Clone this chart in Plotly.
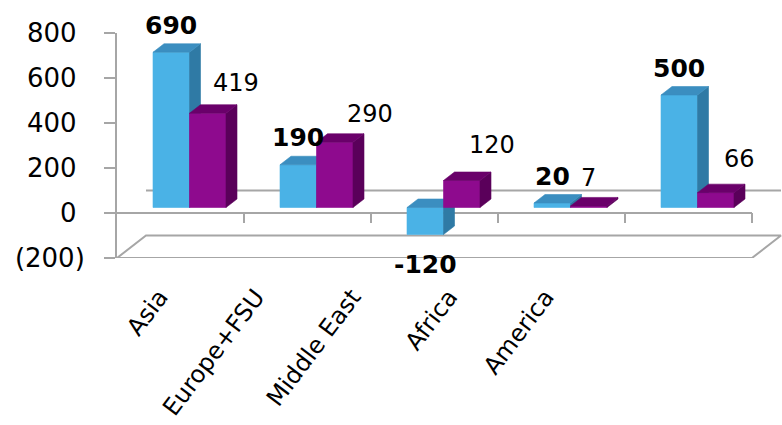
import plotly.graph_objects as go

# ---- data ---------------------------------------------------------------
categories = ["Asia", "Europe+FSU", "Middle East", "Africa", "America"]
series_a = [690, 190, -120, 20, 500]      # first series (blue, bold labels)
series_b = [419, 290, 120, 7, 66]         # second series (purple)
y_tickvals = [-200, 0, 200, 400, 600, 800]
y_ticktext = ["(200)", "0\u00a0", "200\u00a0", "400\u00a0", "600\u00a0", "800\u00a0"]

# ---- layout geometry ----------------------------------------------------
W, H = 782, 425
M_L, M_R, M_T, M_B = 117, 0, 33, 167
PLOT_W = W - M_L - M_R
PLOT_H = H - M_T - M_B
Y_RANGE = [-200, 800]
PX_PER_CAT = 127.0                         # category slot width on the front plane
PX_PER_VAL = PLOT_H / (Y_RANGE[1] - Y_RANGE[0])
X2_RANGE = [0, PLOT_W / PX_PER_CAT]

def du(px):
    return px / PX_PER_CAT

def dv(px):
    return px / PX_PER_VAL

BAR_W = du(36.5)
FRONT_DU, FRONT_DV = du(9), dv(5.5)        # bars sit a little behind the front plane
BAR_DU, BAR_DV = du(11), dv(8.5)           # depth of a bar
FLOOR_DU, FLOOR_DV = du(29), dv(22.5)      # depth of the floor / back wall
N = len(categories)

LABEL_SPACING = 96.5                       # px between category label anchors
LABEL_R0 = -0.44
X_RANGE = [LABEL_R0, LABEL_R0 + PLOT_W / LABEL_SPACING]

FONT = "DejaVu Sans"
GRID = "#A6A6A6"
BLUE = {"front": "#4AB2E6", "side": "#2F7AA5", "top": "#3B8EC0"}
PURPLE = {"front": "#8E0A8E", "side": "#5A005A", "top": "#6A006A"}
label_b_dx = [28, 35, 30, 0, 24]
label_b_dy = [30, 28, 36, 28, 34]

fig = go.Figure()

# invisible trace carrying the category label axis
fig.add_trace(go.Scatter(x=list(range(N)), y=[0] * N, mode="markers",
                         marker=dict(opacity=0), hoverinfo="skip",
                         showlegend=False, xaxis="x", yaxis="y"))

def line_trace(xs, ys):
    fig.add_trace(go.Scatter(x=xs, y=ys, mode="lines", xaxis="x2", yaxis="y",
                             line=dict(color=GRID, width=2),
                             hoverinfo="skip", showlegend=False,
                             cliponaxis=False))

# floor outline at the bottom of the value range
fy = Y_RANGE[0]
line_trace([0, N, N + FLOOR_DU, FLOOR_DU, 0],
           [fy, fy, fy + FLOOR_DV, fy + FLOOR_DV, fy])
# zero line on the back wall
line_trace([FLOOR_DU, N + FLOOR_DU], [FLOOR_DV, FLOOR_DV])
# zero line on the front plane with category separators
line_trace([0, N], [0, 0])
sep_x, sep_y = [], []
for k in range(1, N + 1):
    sep_x += [k, k, None]
    sep_y += [0, -dv(10), None]
line_trace(sep_x, sep_y)

def faces(values, left_edge, colors, name):
    front_x, front_y, side_x, side_y, top_x, top_y = [], [], [], [], [], []
    for i, v in enumerate(values):
        x0 = left_edge(i)
        x1 = x0 + BAR_W
        y0 = FRONT_DV
        y1 = v + FRONT_DV
        lo, hi = min(y0, y1), max(y0, y1)
        front_x += [x0, x1, x1, x0, x0, None]
        front_y += [lo, lo, hi, hi, lo, None]
        side_x += [x1, x1 + BAR_DU, x1 + BAR_DU, x1, x1, None]
        side_y += [lo, lo + BAR_DV, hi + BAR_DV, hi, lo, None]
        top_x += [x0, x1, x1 + BAR_DU, x0 + BAR_DU, x0, None]
        top_y += [hi, hi, hi + BAR_DV, hi + BAR_DV, hi, None]
    for fx, fyy, key in [(front_x, front_y, "front"), (side_x, side_y, "side"),
                         (top_x, top_y, "top")]:
        fig.add_trace(go.Scatter(x=fx, y=fyy, mode="lines", fill="toself",
                                 fillcolor=colors[key],
                                 line=dict(color=colors[key], width=0.6),
                                 xaxis="x2", yaxis="y", name=name,
                                 hoverinfo="skip", showlegend=False,
                                 cliponaxis=False))

def center(i):
    return i + 0.5 + FRONT_DU

faces(series_a, lambda i: center(i) - BAR_W, BLUE, "A")
faces(series_b, lambda i: center(i), PURPLE, "B")

annotations = []
for i, v in enumerate(series_a):
    cx = center(i) - BAR_W / 2
    annotations.append(dict(
        x=cx, y=v + FRONT_DV, xref="x2", yref="y", text=f"{v}",
        showarrow=False, xanchor="center", yanchor="middle",
        yshift=27 if v >= 0 else -30,
        font=dict(family=FONT, size=25, color="black", weight="bold")))
for i, v in enumerate(series_b):
    cx = center(i) + BAR_W / 2
    annotations.append(dict(
        x=cx, y=v + FRONT_DV, xref="x2", yref="y", text=f"{v}",
        showarrow=False, xanchor="center", yanchor="middle",
        xshift=label_b_dx[i], yshift=label_b_dy[i],
        font=dict(family=FONT, size=24, color="black")))

fig.update_layout(
    width=W, height=H,
    margin=dict(l=M_L, r=M_R, t=M_T, b=M_B, autoexpand=False),
    paper_bgcolor="white", plot_bgcolor="white",
    showlegend=False,
    font=dict(family=FONT, color="black"),
    xaxis=dict(range=X_RANGE, tickmode="array", tickvals=list(range(N)),
               ticktext=categories, tickangle=-53, ticks="",
               showline=False, showgrid=False, zeroline=False,
               automargin=False, ticklabelstandoff=19,
               tickfont=dict(family=FONT, size=24, color="black")),
    xaxis2=dict(range=X2_RANGE, overlaying="x", anchor="y", visible=False),
    yaxis=dict(range=Y_RANGE, tickmode="array", tickvals=y_tickvals,
               ticktext=y_ticktext, ticks="outside", ticklen=11,
               tickwidth=2, tickcolor=GRID, showline=True, linecolor=GRID,
               linewidth=2, showgrid=False, zeroline=False,
               automargin=False, ticklabelstandoff=14,
               tickfont=dict(family=FONT, size=26, color="black")),
    annotations=annotations,
)

fig.write_html("out.html")
